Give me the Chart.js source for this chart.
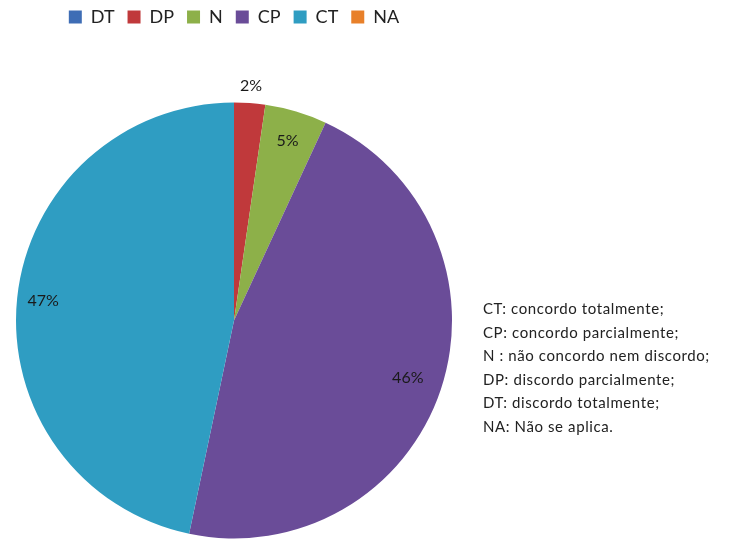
<!DOCTYPE html>
<html>
<head>
<meta charset="utf-8">
<script src="https://cdn.jsdelivr.net/npm/chart.js@4.4.1/dist/chart.umd.min.js"></script>
<style>
  html, body { margin: 0; padding: 0; background: #fff; }
  #wrap { position: relative; width: 733px; height: 541px; }
  #note { position: absolute; left: 483px; top: 297px; font-family: Lato, "Open Sans", sans-serif; font-size: 15px; letter-spacing: 0.6px; line-height: 23.6px; color: #222; white-space: nowrap; }
</style>
</head>
<body>
<div id="wrap">
  <canvas id="c" width="733" height="541"></canvas>
  <div id="note">
    CT: concordo totalmente;<br>
    CP: concordo parcialmente;<br>
    N : não concordo nem discordo;<br>
    DP: discordo parcialmente;<br>
    DT: discordo totalmente;<br>
    NA: Não se aplica.
  </div>
</div>
<script>
const categories = ['DT', 'DP', 'N', 'CP', 'CT', 'NA'];
const values = [0, 2.3, 4.6, 46.4, 46.7, 0];
const percentLabels = ['', '2%', '5%', '46%', '47%', ''];

const colors = ['#3E6DB5', '#C0393B', '#8DB049', '#6A4C98', '#2F9DC2', '#E8802A'];
const labelRadius = [0.9, 1.08, 0.86, 0.84, 0.88, 0.9];

const PAD_TOP = -5;
const CHART_TOP = 100;

const legendSpacer = {
  id: 'legendSpacer',
  afterInit(chart) {
    const lg = chart.legend;
    if (!lg) return;
    const origFit = lg.fit;
    lg.fit = function () {
      origFit.call(this);
      this.height = CHART_TOP - PAD_TOP;
    };
  }
};

const pctPlugin = {
  id: 'pct',
  afterDatasetsDraw(chart) {
    const ctx = chart.ctx;
    const meta = chart.getDatasetMeta(0);
    ctx.save();
    ctx.font = '16px Lato, "Open Sans", sans-serif';
    ctx.fillStyle = '#1a1a1a';
    ctx.textAlign = 'center';
    ctx.textBaseline = 'middle';
    meta.data.forEach((arc, i) => {
      if (!values[i]) return;
      const p = arc.getProps(['x', 'y', 'startAngle', 'endAngle', 'outerRadius'], true);
      const mid = (p.startAngle + p.endAngle) / 2;
      const r = p.outerRadius * labelRadius[i];
      ctx.fillText(percentLabels[i], p.x + Math.cos(mid) * r, p.y + Math.sin(mid) * r);
    });
    ctx.restore();
  }
};

new Chart(document.getElementById('c'), {
  type: 'pie',
  data: {
    labels: categories,
    datasets: [{
      data: values,
      backgroundColor: colors,
      borderWidth: 0
    }]
  },
  options: {
    responsive: false,
    animation: false,
    layout: { padding: { left: 16, right: 281, top: PAD_TOP, bottom: 0 } },
    plugins: {
      tooltip: { enabled: false },
      legend: {
        position: 'top',
        labels: {
          boxWidth: 13,
          boxHeight: 13,
          padding: 13,
          color: '#222',
          font: { family: 'Lato, "Open Sans", sans-serif', size: 18 }
        }
      }
    }
  },
  plugins: [legendSpacer, pctPlugin]
});
</script>
</body>
</html>
